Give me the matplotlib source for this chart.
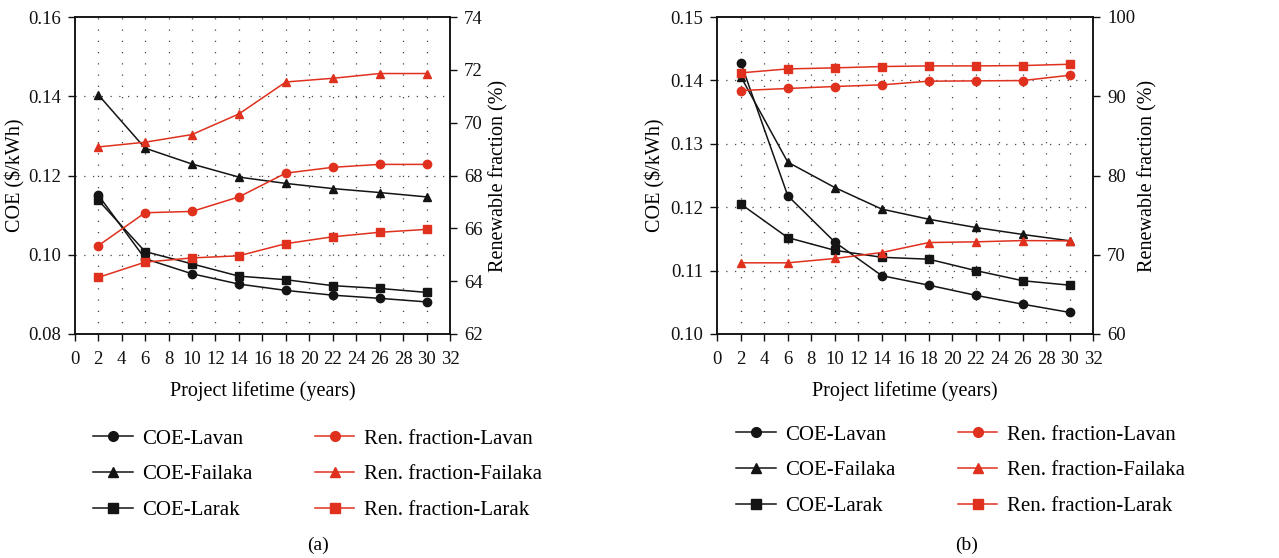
import matplotlib
matplotlib.use("Agg")
import matplotlib.pyplot as plt
from matplotlib.lines import Line2D

plt.rcParams['font.family'] = ['Liberation Serif', 'DejaVu Serif']
plt.rcParams['font.size'] = 13

years = [2, 6, 10, 14, 18, 22, 26, 30]

# Panel (a)
a_coe_lavan = [0.1151, 0.0990, 0.0952, 0.0926, 0.0910, 0.0898, 0.0890, 0.0881]
a_coe_failaka = [0.1404, 0.1269, 0.1229, 0.1196, 0.1180, 0.1167, 0.1157, 0.1146]
a_coe_larak = [0.1138, 0.1008, 0.0977, 0.0946, 0.0937, 0.0922, 0.0915, 0.0905]
a_ren_lavan = [65.34, 66.59, 66.64, 67.19, 68.09, 68.31, 68.42, 68.42]
a_ren_failaka = [69.08, 69.26, 69.55, 70.33, 71.54, 71.68, 71.86, 71.86]
a_ren_larak = [64.14, 64.72, 64.88, 64.96, 65.42, 65.68, 65.85, 65.96]

# Panel (b)
b_coe_lavan = [0.1428, 0.1218, 0.1145, 0.1092, 0.1077, 0.1061, 0.1047, 0.1034]
b_coe_failaka = [0.1406, 0.1271, 0.1231, 0.1197, 0.1181, 0.1168, 0.1157, 0.1147]
b_coe_larak = [0.1205, 0.1152, 0.1132, 0.1121, 0.1118, 0.1100, 0.1084, 0.1077]
b_ren_lavan = [90.72, 90.98, 91.23, 91.44, 91.90, 91.94, 91.98, 92.65]
b_ren_failaka = [68.98, 68.98, 69.53, 70.28, 71.54, 71.63, 71.79, 71.75]
b_ren_larak = [92.95, 93.45, 93.58, 93.75, 93.83, 93.83, 93.87, 94.04]

x_ticks = list(range(0, 33, 2))
a_left_ticks = [0.08, 0.10, 0.12, 0.14, 0.16]
a_right_ticks = [62, 64, 66, 68, 70, 72, 74]
b_left_ticks = [0.10, 0.11, 0.12, 0.13, 0.14, 0.15]
b_right_ticks = [60, 70, 80, 90, 100]

labels = ['COE-Lavan', 'COE-Failaka', 'COE-Larak',
          'Ren. fraction-Lavan', 'Ren. fraction-Failaka', 'Ren. fraction-Larak']

BLACK = '#141414'
RED = '#e0301e'
W, H = 1279, 558

fig = plt.figure(figsize=(W / 100, H / 100), dpi=100)


def make_panel(left_px, right_px, coe, ren, lticks, rticks, letter,
               leg_x, leg_y, letter_x, ylab_x, y2lab_x):
    x0 = left_px / W
    wpx = right_px - left_px
    w = wpx / W
    y0 = 1 - 334 / H
    h = (334 - 17) / H
    ax = fig.add_axes([x0, y0, w, h])
    ax2 = ax.twinx()
    dot = (0, (1, 6))
    for xv in x_ticks[1:-1]:
        ax.axvline(xv, color='#444444', lw=0.9, ls=(0, (1, 8)), zorder=0)
    for yv in lticks[1:-1]:
        ax.axhline(yv, color='#444444', lw=0.9, ls=dot, zorder=0)
    markers = ['o', '^', 's']
    handles = []
    for series, m in zip(coe, markers):
        ax.plot(years, series, color=BLACK, lw=1.1, marker=m, ms=6, zorder=3)
        handles.append(Line2D([], [], color=BLACK, lw=1.1, marker=m, ms=7))
    for series, m in zip(ren, markers):
        ax2.plot(years, series, color=RED, lw=1.1, marker=m, ms=6, zorder=3)
    rhandles = [Line2D([], [], color=RED, lw=1.1, marker=m, ms=7) for m in markers]
    ax.set_xlim(0, 32)
    ax.set_xticks(x_ticks)
    ax.set_ylim(lticks[0], lticks[-1])
    ax.set_yticks(lticks)
    ax.set_yticklabels(['%.2f' % v for v in lticks])
    ax2.set_ylim(rticks[0], rticks[-1])
    ax2.set_yticks(rticks)
    ax.set_xlabel('Project lifetime (years)', fontsize=14.5, labelpad=10)
    ax.set_ylabel('COE ($/kWh)', fontsize=14.5)
    ax2.set_ylabel('Renewable fraction (%)', fontsize=14.5)
    ax.yaxis.set_label_coords((ylab_x - left_px) / wpx, 0.5)
    ax2.yaxis.set_label_coords((y2lab_x - left_px) / wpx, 0.5)
    ax.yaxis.label.set_va('center')
    ax2.yaxis.label.set_va('center')
    for a in (ax, ax2):
        a.tick_params(direction='out', length=5, width=1, labelsize=13.5, colors='#111111', pad=5)
        for s in a.spines.values():
            s.set_linewidth(1.1)
            s.set_color('#111111')
    ax.tick_params(axis='x', pad=7)
    fig.legend(handles + rhandles, labels, ncol=2, frameon=False,
               loc='upper left', bbox_to_anchor=(leg_x / W, 1 - leg_y / H),
               fontsize=15, handlelength=1.9, columnspacing=3.0,
               labelspacing=0.78, handletextpad=0.45,
               borderpad=0, borderaxespad=0)
    fig.text(letter_x / W, 1 - 545 / H, letter, ha='center', va='center', fontsize=14)
    return ax


make_panel(74.7, 450, [a_coe_lavan, a_coe_failaka, a_coe_larak],
           [a_ren_lavan, a_ren_failaka, a_ren_larak],
           a_left_ticks, a_right_ticks, '(a)', 93, 429, 318, 15, 499)
make_panel(717.3, 1093.3, [b_coe_lavan, b_coe_failaka, b_coe_larak],
           [b_ren_lavan, b_ren_failaka, b_ren_larak],
           b_left_ticks, b_right_ticks, '(b)', 736, 425, 967, 655, 1148)

fig.savefig('out.png', dpi=100)
